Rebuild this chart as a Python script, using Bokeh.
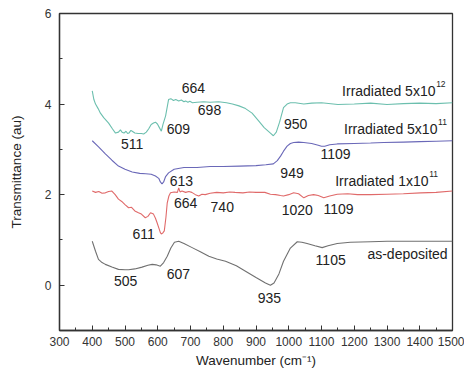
from bokeh.plotting import figure
from bokeh.models import ColumnDataSource, FixedTicker, Range1d
from bokeh.core.properties import value
from bokeh.embed import file_html
from bokeh.resources import INLINE

# ---- data ----
w_5e12 = [400,405,410,418,425,435,450,462,471,480,486,491,497,503,508,512,518,522,530,540,550,557,565,572,580,587,593,599,605,611,616,624,633,640,648,655,664,672,680,685,692,698,706,720,740,760,786,810,828,848,868,888,908,925,944,953,962,972,984,995,1005,1020,1046,1070,1100,1150,1200,1250,1300,1350,1400,1450,1500]
t_5e12 = [4.29,4.1,4.0,3.9,3.8,3.7,3.58,3.45,3.36,3.38,3.43,3.38,3.36,3.40,3.35,3.36,3.42,3.40,3.36,3.35,3.35,3.34,3.38,3.45,3.55,3.58,3.6,3.56,3.48,3.40,3.55,3.74,4.1,4.12,4.08,4.1,4.07,4.09,4.05,4.07,4.04,4.06,4.03,4.04,4.05,4.04,4.05,4.03,4.0,3.96,3.9,3.8,3.63,3.48,3.36,3.3,3.38,3.6,3.92,4.0,4.03,4.03,4.0,4.02,4.03,3.99,4.0,4.02,3.99,4.01,4.02,4.01,4.03]

w_5e11 = [400,420,440,460,480,500,522,545,563,580,593,603,608,613,618,624,633,650,680,720,760,800,850,900,930,953,965,975,984,995,1005,1015,1030,1046,1070,1090,1100,1110,1125,1148,1200,1250,1290,1350,1400,1450,1500]
t_5e11 = [3.19,3.05,2.9,2.76,2.63,2.56,2.5,2.47,2.46,2.45,2.41,2.36,2.28,2.24,2.28,2.4,2.48,2.56,2.6,2.6,2.62,2.62,2.63,2.64,2.66,2.68,2.75,2.85,2.96,3.07,3.13,3.15,3.16,3.15,3.13,3.09,3.07,3.07,3.1,3.12,3.13,3.14,3.15,3.16,3.17,3.18,3.19]

w_1e11 = [400,410,420,430,440,450,460,470,480,490,500,511,520,530,541,550,562,570,578,587,593,598,604,608,611,615,620,625,629,634,639,650,660,664,668,674,685,695,704,715,725,735,745,760,780,800,820,836,860,880,900,927,944,960,975,984,1000,1015,1030,1046,1060,1076,1090,1107,1125,1148,1180,1210,1250,1300,1350,1403,1450,1500]
t_1e11 = [2.08,2.05,2.07,2.03,2.04,2.07,2.08,2.0,1.9,1.85,1.78,1.71,1.72,1.64,1.6,1.57,1.49,1.52,1.6,1.57,1.48,1.38,1.25,1.16,1.13,1.15,1.2,1.5,1.82,1.97,2.04,2.06,2.05,2.15,2.06,2.08,2.05,2.07,2.05,2.0,1.97,2.01,2.0,2.03,2.05,2.04,2.06,2.05,2.04,2.06,2.05,2.05,2.01,2.0,1.98,1.97,2.0,2.04,2.02,1.93,1.98,2.0,1.98,1.93,1.97,2.01,2.02,2.0,2.0,2.01,2.02,2.04,2.05,2.08]

w_dep = [400,410,419,430,440,460,480,500,511,530,552,570,583,595,608,618,629,640,651,664,680,705,730,756,780,807,840,868,900,929,944,955,970,984,1005,1026,1040,1056,1080,1102,1120,1148,1188,1250,1300,1400,1500]
t_dep = [0.97,0.75,0.57,0.5,0.46,0.4,0.35,0.34,0.34,0.36,0.4,0.44,0.46,0.45,0.42,0.5,0.64,0.82,0.95,0.97,0.92,0.83,0.74,0.64,0.58,0.53,0.43,0.31,0.17,0.05,0.0,0.05,0.25,0.53,0.82,0.96,0.95,0.92,0.87,0.83,0.87,0.92,0.95,0.96,0.97,0.97,0.97]

peak_text = ["511","609","664","698","950","613","949","1109","664","740","1020","1109","611","505","607","935","1105"]
peak_x = [522,663,709,758,1021,672,1010,1143,685,797,1026,1152,557,502,663,941,1128]
peak_y = [3.12,3.46,4.36,3.87,3.56,2.3,2.48,2.9,1.81,1.73,1.66,1.69,1.12,0.09,0.24,-0.28,0.55]

series_text = ["Irradiated 5x10", "Irradiated 5x10", "Irradiated 1x10", "as-deposited"]
series_x = [1448, 1454, 1427, 1485]
series_y = [4.29, 3.45, 2.30, 0.69]
sup_text = ["12", "11", "11"]
sup_x = [1450, 1456, 1429]
sup_y = [4.29, 3.45, 2.30]

x_ticks = [300,400,500,600,700,800,900,1000,1100,1200,1300,1400,1500]
x_minor = [350,450,550,650,750,850,950,1050,1150,1250,1350,1450]
y_ticks = [0,2,4,6]
y_minor = [-1,1,3,5]

FONT = "Liberation Sans"

p = figure(width=464, height=380, output_backend="svg", toolbar_location=None,
           x_range=Range1d(300, 1500), y_range=Range1d(-1, 6),
           min_border_left=59, min_border_right=12, min_border_top=13, min_border_bottom=50)
p.grid.visible = False
p.outline_line_color = "#333333"
p.outline_line_width = 1.3
p.background_fill_color = "white"
p.border_fill_color = "white"

for ax in (p.xaxis[0], p.yaxis[0]):
    ax.axis_line_color = "#333333"
    ax.axis_line_width = 1.3
    ax.major_tick_line_color = "#333333"
    ax.minor_tick_line_color = "#333333"
    ax.major_tick_in = 5
    ax.major_tick_out = 0
    ax.minor_tick_in = 3
    ax.minor_tick_out = 0
    ax.major_label_text_font = FONT
    ax.major_label_text_font_size = "12px"
    ax.major_label_text_color = "#333333"
    ax.axis_label_text_font = FONT
    ax.axis_label_text_font_size = "13.5px"
    ax.axis_label_text_font_style = "normal"
    ax.axis_label_text_color = "#222222"

p.xaxis.ticker = FixedTicker(ticks=x_ticks, minor_ticks=x_minor)
p.yaxis.ticker = FixedTicker(ticks=y_ticks, minor_ticks=y_minor)
p.xaxis.axis_label = "Wavenumber (cm⁻¹)"
p.yaxis.axis_label = "Transmittance (au)"
p.xaxis.major_label_standoff = 6
p.xaxis.axis_label_standoff = 4
p.yaxis.major_label_standoff = 8
p.yaxis.axis_label_standoff = 18

p.line(w_5e12, t_5e12, line_color="#6cbfae", line_width=1.1)
p.line(w_5e11, t_5e11, line_color="#6a68b8", line_width=1.1)
p.line(w_1e11, t_1e11, line_color="#e06a6a", line_width=1.1)
p.line(w_dep, t_dep, line_color="#707070", line_width=1.1)

src_peaks = ColumnDataSource(dict(x=peak_x, y=peak_y, t=peak_text))
p.text(x="x", y="y", text="t", source=src_peaks, text_font=value(FONT),
       text_font_size="14px", text_align="center", text_baseline="middle", text_color="#222222")

src_series = ColumnDataSource(dict(x=series_x, y=series_y, t=series_text))
p.text(x="x", y="y", text="t", source=src_series, text_font=value(FONT),
       text_font_size="14px", text_align="right", text_baseline="middle", text_color="#222222")

src_sup = ColumnDataSource(dict(x=sup_x, y=sup_y, t=sup_text))
p.text(x="x", y="y", text="t", source=src_sup, text_font=value(FONT),
       text_font_size="8.5px", text_align="left", text_baseline="middle", text_color="#222222",
       y_offset=-7)

open("out.html", "w").write(file_html(p, INLINE))
